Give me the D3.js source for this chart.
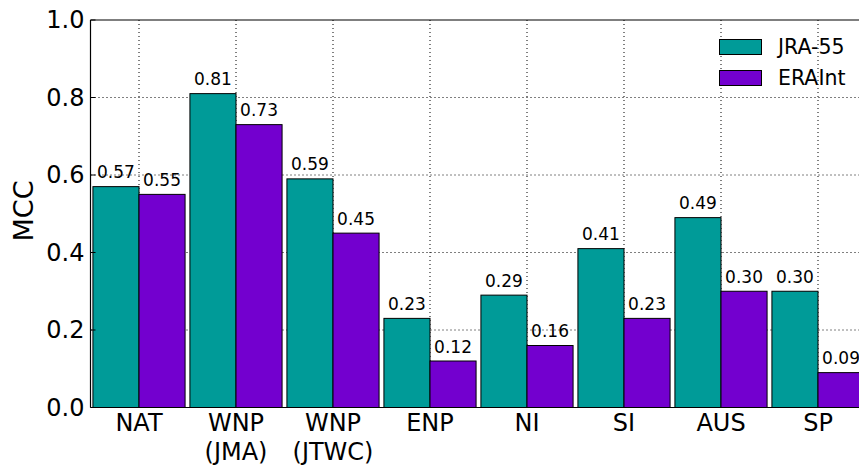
<!DOCTYPE html>
<html>
<head>
<meta charset="utf-8">
<script src="https://cdn.jsdelivr.net/npm/d3@7"></script>
<style>
  html, body { margin: 0; padding: 0; background: #fff; }
  svg { display: block; font-family: "DejaVu Sans", sans-serif; }
</style>
</head>
<body>
<svg id="chart" width="859" height="465"></svg>
<script>
// Basin names (second line in parentheses where present)
const categories = ["NAT", "WNP\n(JMA)", "WNP\n(JTWC)", "ENP", "NI", "SI", "AUS", "SP"];
// MCC per reanalysis
const jra55 = [0.57, 0.81, 0.59, 0.23, 0.29, 0.41, 0.49, 0.30];
const eraint = [0.55, 0.73, 0.45, 0.12, 0.16, 0.23, 0.30, 0.09];
const seriesNames = ["JRA-55", "ERAInt"];
const yTicks = [0.0, 0.2, 0.4, 0.6, 0.8, 1.0];

const colors = ["#009b98", "#7300cf"];
const svg = d3.select("#chart");

const plotLeft = 90.5, plotTop = 20, plotBottom = 407.5;
const step = 97;
// x in category units: the last group runs past the window edge
const x = d3.scaleLinear().domain([-0.5, categories.length - 0.5]).range([plotLeft, plotLeft + step * categories.length]);
const y = d3.scaleLinear().domain([0, 1]).range([plotBottom, plotTop]);
const barW = 0.475;

svg.append("defs").append("clipPath").attr("id", "plotclip")
  .append("rect").attr("x", plotLeft).attr("y", plotTop - 1).attr("width", 859 - plotLeft).attr("height", plotBottom - plotTop + 2);

const plot = svg.append("g").attr("clip-path", "url(#plotclip)");

// dotted grid
plot.append("g").selectAll("line").data(yTicks.slice(1, -1)).join("line")
  .attr("x1", plotLeft).attr("x2", 859).attr("y1", d => y(d)).attr("y2", d => y(d))
  .attr("stroke", "#000").attr("stroke-width", 1).attr("stroke-dasharray", "1,3");
plot.append("g").selectAll("line").data(categories.map((c, i) => i)).join("line")
  .attr("x1", d => x(d)).attr("x2", d => x(d)).attr("y1", plotTop).attr("y2", plotBottom)
  .attr("stroke", "#000").attr("stroke-width", 1).attr("stroke-dasharray", "1,3");

const series = [jra55, eraint];
series.forEach((vals, s) => {
  const g = plot.append("g");
  g.selectAll("rect").data(vals).join("rect")
    .attr("x", (d, i) => x(i - barW + s * barW))
    .attr("width", x(barW) - x(0))
    .attr("y", d => y(d))
    .attr("height", d => y(0) - y(d))
    .attr("fill", colors[s])
    .attr("stroke", "#000").attr("stroke-width", 1);
  g.selectAll("text").data(vals).join("text")
    .attr("x", (d, i) => x(i - barW / 2 + s * barW))
    .attr("y", d => y(d) - 8.5)
    .attr("text-anchor", "middle")
    .attr("font-size", 17)
    .text(d => d.toFixed(2));
});

// axes frame: left, top, bottom spines
svg.append("line").attr("x1", plotLeft).attr("x2", plotLeft).attr("y1", plotTop).attr("y2", plotBottom).attr("stroke", "#000").attr("stroke-width", 1.2);
svg.append("line").attr("x1", plotLeft).attr("x2", 859).attr("y1", plotTop).attr("y2", plotTop).attr("stroke", "#000").attr("stroke-width", 1.2);
svg.append("line").attr("x1", plotLeft).attr("x2", 859).attr("y1", plotBottom).attr("y2", plotBottom).attr("stroke", "#000").attr("stroke-width", 1.2);

// y axis ticks (inward) and labels
const yAxis = svg.append("g");
yAxis.selectAll("line").data(yTicks).join("line")
  .attr("x1", plotLeft).attr("x2", plotLeft + 5).attr("y1", d => y(d)).attr("y2", d => y(d))
  .attr("stroke", "#000");
yAxis.selectAll("text").data(yTicks).join("text")
  .attr("x", plotLeft - 6).attr("y", d => y(d) + 8)
  .attr("text-anchor", "end").attr("font-size", 24)
  .text(d => d.toFixed(1));

svg.append("text")
  .attr("transform", `translate(33,211) rotate(-90)`)
  .attr("text-anchor", "middle").attr("font-size", 27)
  .text("MCC");

// category labels
const xl = svg.append("g");
categories.forEach((c, i) => {
  const lines = c.split("\n");
  const t = xl.append("text").attr("x", x(i)).attr("y", 431)
    .attr("text-anchor", "middle").attr("font-size", 24);
  lines.forEach((ln, k) => {
    t.append("tspan").attr("x", x(i)).attr("dy", k === 0 ? 0 : 29).text(ln);
  });
});

// legend
const leg = svg.append("g");
seriesNames.forEach((n, s) => {
  leg.append("rect").attr("x", 719.5).attr("y", 39.5 + s * 31).attr("width", 42).attr("height", 15)
    .attr("fill", colors[s]).attr("stroke", "#000").attr("stroke-width", 1);
  leg.append("text").attr("x", 778).attr("y", 54 + s * 31).attr("font-size", 20.5).text(n);
});
</script>
</body>
</html>
